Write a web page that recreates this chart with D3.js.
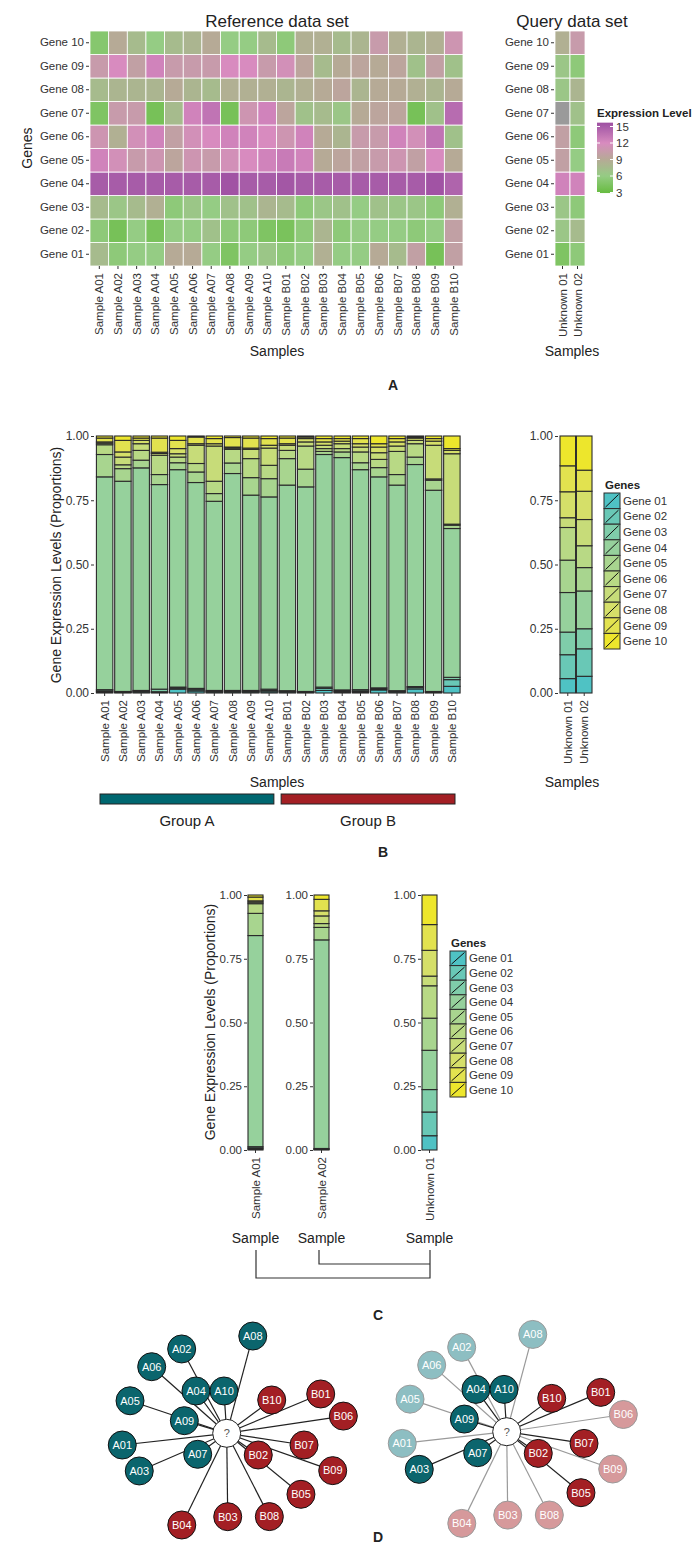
<!DOCTYPE html>
<html><head><meta charset="utf-8">
<script src="https://cdn.jsdelivr.net/npm/d3@7"></script>
<style>
body{margin:0;background:#fff}
svg text{font-family:"Liberation Sans",Arial,Helvetica,sans-serif}
</style></head>
<body><svg id="c" width="692" height="1552"></svg>
<script>
// ---------------- DATA ----------------
const genes = ["Gene 01","Gene 02","Gene 03","Gene 04","Gene 05","Gene 06","Gene 07","Gene 08","Gene 09","Gene 10"];
const refSamples = ["Sample A01","Sample A02","Sample A03","Sample A04","Sample A05","Sample A06","Sample A07","Sample A08","Sample A09","Sample A10",
  "Sample B01","Sample B02","Sample B03","Sample B04","Sample B05","Sample B06","Sample B07","Sample B08","Sample B09","Sample B10"];
const querySamples = ["Unknown 01","Unknown 02"];
const propTicks = [0, 0.25, 0.5, 0.75, 1];
const legendTicks = [3, 6, 9, 12, 15];

// Expression level (log scale) per gene, across reference samples A01..B10
const refExpression = [
  /* Gene 01 */ [7.5,5.5,6,6,9,9,6,4.5,6,6.5,5.5,6,8.5,6,6,9,7.5,10,4,10],
  /* Gene 02 */ [5.5,4,6,4.2,6,6,7,5.5,5.5,4.5,4.2,5.5,8,5.5,6,6,6,5.5,6,10],
  /* Gene 03 */ [7.5,6.5,7.5,8.5,5.5,6.5,6,7,7,8,7.5,5.5,6.5,7,6,7,6.5,6.5,5.5,8.5],
  /* Gene 04 */ [15,15,15,15,15,15,15,15.5,15,15,15.3,15,15,15,15,15,15,15,15.5,14.5],
  /* Gene 05 */ [12.5,11.5,10.5,11,9.5,11,10.5,11.5,12,12.5,13,12.5,9,9.5,10,10.5,11,10,12,9],
  /* Gene 06 */ [11,8.5,11.5,12.5,10,11.5,12,12.5,12.5,12,11,12.5,9,8,10.5,10.5,12.5,11.5,13.5,7],
  /* Gene 07 */ [4.5,10.5,10.5,4,7.5,12.5,13.5,4,11,12.5,9.5,7,7.5,6.5,9,9.5,9.5,4,7,14],
  /* Gene 08 */ [7.5,8,8,8,9,8,7.5,8.5,8.5,8.5,8,8.5,9,9.5,8,9,9,8.5,8,9],
  /* Gene 09 */ [10.5,12,10,12.5,10.5,10.5,10.5,12,12,10.5,11.5,9.5,7.5,9,9.5,9,9.5,7,10,7],
  /* Gene 10 */ [5,9,7.5,6,7.5,8,9,6,6,7.5,5.5,8.5,8.5,7.5,8,10.5,8.5,8,8.5,11]
];
// Query expression per gene (Unknown 01, Unknown 02); null = missing
const queryExpression = [
  [4.5,5.5],[6.5,7.5],[6.5,5.5],[12.5,12.5],[10,6],[10,5.5],[null,7],[6.5,8],[6.5,5.5],[8.5,10.5]
];

// Proportions per sample (Gene 01..Gene 10)
const refProportions = [
  [.004,.004,.005,.828,.087,.038,.006,.005,.015,.008],
  [.002,.002,.002,.818,.049,.015,.030,.020,.045,.017],
  [.003,.003,.004,.866,.030,.038,.026,.013,.009,.008],
  [.002,.003,.010,.796,.039,.075,.007,.005,.055,.008],
  [.015,.004,.004,.846,.027,.022,.013,.020,.032,.017],
  [.008,.005,.005,.801,.041,.033,.071,.006,.026,.004],
  [.003,.003,.004,.736,.030,.048,.137,.009,.020,.010],
  [.003,.003,.004,.844,.041,.053,.005,.004,.037,.006],
  [.003,.003,.004,.760,.068,.074,.036,.005,.039,.008],
  [.005,.005,.005,.748,.071,.052,.067,.011,.026,.010],
  [.003,.003,.003,.800,.103,.032,.020,.006,.022,.008],
  [.002,.002,.002,.796,.069,.090,.016,.013,.006,.004],
  [.010,.008,.005,.905,.012,.011,.013,.013,.013,.010],
  [.004,.004,.004,.904,.022,.013,.019,.010,.010,.010],
  [.004,.004,.005,.856,.027,.042,.019,.013,.020,.010],
  [.012,.004,.004,.821,.036,.032,.026,.022,.013,.030],
  [.003,.003,.003,.800,.041,.090,.021,.016,.013,.010],
  [.016,.006,.003,.864,.029,.052,.013,.009,.004,.004],
  [.002,.002,.002,.783,.039,.005,.131,.016,.010,.010],
  [.026,.026,.009,.579,.013,.004,.274,.013,.007,.049]
];
const queryProportions = [
  [.056,.093,.088,.154,.126,.127,.038,.101,.101,.116],
  [.065,.107,.078,.147,.091,.085,.102,.110,.082,.133]
];
const groups = ["Group A","Group B"];

// Network: distance of each reference sample from the query, and direction
const netNodes = ["A01","A02","A03","A04","A05","A06","A07","A08","A09","A10","B01","B02","B03","B04","B05","B06","B07","B08","B09","B10"];
const netDist  = [1.051,.956,.952,.523,1.02,1.003,.358,1.007,.442,.424,1.019,.383,.834,1.021,.961,1.179,.782,.936,1.124,.56];
const netAngle = [173.6,-118.1,156.7,-126,-161.4,-138.4,144.1,-75,-163.4,-93.7,-22.7,34.5,89.3,116.1,39.4,-8.4,8.6,62.9,19.4,-36.5];
const netNearest = ["A03","A04","A07","A09","A10","B01","B02","B05","B07","B10"];

// ---------------- STYLE ----------------
const geneColors = ["#4fc2c4","#69c8b6","#7fcdaa","#96d19c","#a8d58f","#b8d985","#c7dc79","#d5df69","#e2e24f","#ede62c"];
const teal = "#0b656d", red = "#a31f24";
const txt = "#333";
const svg = d3.select("#c");
const heatColor = d3.scaleLinear().domain([3,6,9,12,15,16]).range(["#68bc42","#95cc84","#b6aa96","#d88bbf","#a75ca8","#9a4a9f"]).clamp(true);

function styleAxis(g, size){
  g.select(".domain").remove();
  g.selectAll(".tick line").attr("stroke","#333");
  g.selectAll(".tick text").attr("fill",txt).style("font-size",size+"px");
}
function rotateLabels(g){
  g.selectAll(".tick text").attr("transform","rotate(-90)").attr("x",-7).attr("y",0).attr("dy","0.35em").style("text-anchor","end");
}
function label(x,y,t,size,opt={}){
  const e = svg.append("text").attr("x",x).attr("y",y).text(t).style("font-size",size+"px").attr("fill",opt.fill||"#222")
    .attr("text-anchor",opt.anchor||"middle");
  if(opt.bold) e.style("font-weight","bold");
  if(opt.rot) e.attr("transform",`rotate(-90,${x},${y})`);
  return e;
}

// ---------------- PANEL A ----------------
const yGene = d3.scaleBand().domain(genes.slice().reverse()).range([31,266]);
const xRef = d3.scaleBand().domain(refSamples).range([90,463]);
const heatCells = [];
genes.forEach((g,gi)=>refSamples.forEach((s,si)=>heatCells.push({g,s,v:refExpression[gi][si]})));
svg.append("g").selectAll("rect").data(heatCells).join("rect")
  .attr("x",d=>xRef(d.s)).attr("y",d=>yGene(d.g)).attr("width",xRef.bandwidth()).attr("height",yGene.bandwidth())
  .attr("fill",d=>heatColor(d.v)).attr("stroke","#fff").attr("stroke-width",0.8);
svg.append("g").attr("transform","translate(89,0)").call(d3.axisLeft(yGene).tickSize(3).tickPadding(2)).call(g=>styleAxis(g,11.5));
svg.append("g").attr("transform","translate(0,266)").call(d3.axisBottom(xRef).tickSize(3)).call(g=>styleAxis(g,11.5)).call(rotateLabels);
label(277,27,"Reference data set",17);
label(277,356,"Samples",14);
label(32,148,"Genes",14,{rot:true});

const xQ = d3.scaleBand().domain(querySamples).range([555,585]);
const qCells = [];
genes.forEach((g,gi)=>querySamples.forEach((s,si)=>qCells.push({g,s,v:queryExpression[gi][si]})));
svg.append("g").selectAll("rect").data(qCells).join("rect")
  .attr("x",d=>xQ(d.s)).attr("y",d=>yGene(d.g)).attr("width",xQ.bandwidth()).attr("height",yGene.bandwidth())
  .attr("fill",d=>d.v==null?"#9a9a9a":heatColor(d.v)).attr("stroke","#fff").attr("stroke-width",0.8);
svg.append("g").attr("transform","translate(554,0)").call(d3.axisLeft(yGene).tickSize(3).tickPadding(2)).call(g=>styleAxis(g,11.5));
svg.append("g").attr("transform","translate(0,266)").call(d3.axisBottom(xQ).tickSize(3)).call(g=>styleAxis(g,11.5)).call(rotateLabels);
label(572,27,"Query data set",17);
label(572,356,"Samples",14);

// colour legend
const legY = d3.scaleLinear().domain([3,15]).range([192.5,126.5]);
const grad = svg.append("defs").append("linearGradient").attr("id","hg").attr("x1",0).attr("x2",0).attr("y1",1).attr("y2",0);
d3.range(2.9,15.75,0.25).forEach(v=>grad.append("stop").attr("offset",(v-2.9)/(15.7-2.9)).attr("stop-color",heatColor(v)));
svg.append("rect").attr("x",597).attr("y",legY(15.7)).attr("width",16).attr("height",legY(2.9)-legY(15.7)).attr("fill","url(#hg)");
svg.append("g").selectAll("g").data(legendTicks).join("g").each(function(t){
  const g=d3.select(this);
  g.append("line").attr("x1",597).attr("x2",600).attr("y1",legY(t)).attr("y2",legY(t)).attr("stroke","#fff");
  g.append("line").attr("x1",610).attr("x2",613).attr("y1",legY(t)).attr("y2",legY(t)).attr("stroke","#fff");
  g.append("text").attr("x",616).attr("y",legY(t)).attr("dy","0.35em").text(t).style("font-size","11.5px").attr("fill",txt);
});
label(597,117,"Expression Level",11.5,{bold:true,anchor:"start"});
label(393,390,"A",14,{bold:true});

// ---------------- STACKED BAR HELPER ----------------
function stackedBars(samples, props, xScale, yScale){
  const table = samples.map((s,i)=>{const o={sample:s}; genes.forEach((g,gi)=>o[g]=props[i][gi]); return o;});
  const series = d3.stack().keys(genes)(table);
  svg.append("g").selectAll("g").data(series).join("g").attr("fill",(d,i)=>geneColors[i])
    .selectAll("rect").data(d=>d).join("rect")
    .attr("x",d=>xScale(d.data.sample)).attr("width",xScale.bandwidth())
    .attr("y",d=>yScale(d[1])).attr("height",d=>yScale(d[0])-yScale(d[1]))
    .attr("stroke","#2a2a2a").attr("stroke-width",1.1);
}
function yAxisProp(x, yScale, size){
  svg.append("g").attr("transform",`translate(${x},0)`)
    .call(d3.axisLeft(yScale).tickValues(propTicks).tickFormat(d3.format(".2f")).tickSize(3).tickPadding(2))
    .call(g=>styleAxis(g,size));
}
function xAxisRot(y, xScale){
  svg.append("g").attr("transform",`translate(0,${y})`).call(d3.axisBottom(xScale).tickSize(3))
    .call(g=>styleAxis(g,11.5)).call(rotateLabels);
}
function geneLegend(x, yTop, h){
  const g = svg.append("g");
  label(x+1,yTop-4,"Genes",11.5,{bold:true,anchor:"start"});
  genes.forEach((gn,i)=>{
    const y = yTop + i*h;
    g.append("rect").attr("x",x).attr("y",y).attr("width",16).attr("height",h).attr("fill",geneColors[i]).attr("stroke","#2a2a2a").attr("stroke-width",1);
    g.append("line").attr("x1",x+1.5).attr("y1",y+h-1.5).attr("x2",x+14.5).attr("y2",y+1.5).attr("stroke","#111").attr("stroke-width",1);
    g.append("text").attr("x",x+19).attr("y",y+h/2).attr("dy","0.35em").text(gn).style("font-size","11.5px").attr("fill",txt);
  });
}

// ---------------- PANEL B ----------------
const yB = d3.scaleLinear().domain([0,1]).range([693,436]);
const xB = d3.scaleBand().domain(refSamples).range([95.5,461]).paddingInner(0.1).paddingOuter(0.05);
stackedBars(refSamples, refProportions, xB, yB);
yAxisProp(94, yB, 12);
xAxisRot(693, xB);
label(61,565,"Gene Expression Levels (Proportions)",14,{rot:true});
label(277,787,"Samples",14);

const xBQ = d3.scaleBand().domain(querySamples).range([560,592]).paddingInner(0.05);
stackedBars(querySamples, queryProportions, xBQ, yB);
yAxisProp(558, yB, 12);
xAxisRot(693, xBQ);
label(572,787,"Samples",14);
geneLegend(604,493,15.6);

// group bars
const xGroup = d3.scaleBand().domain(groups).range([100,455]).paddingInner(0.04);
svg.append("g").selectAll("rect").data(groups).join("rect")
  .attr("x",d=>xGroup(d)).attr("width",xGroup.bandwidth()).attr("y",794).attr("height",10)
  .attr("fill",(d,i)=>i?red:"#006770").attr("stroke","#222").attr("stroke-width",1);
groups.forEach(gr=>label(xGroup(gr)+xGroup.bandwidth()/2,826,gr,15));
label(383,857,"B",14,{bold:true});

// ---------------- PANEL C ----------------
const yC = d3.scaleLinear().domain([0,1]).range([1150,895]);
const cCharts = [
  {sample:"Sample A01", props:refProportions[0], x:248},
  {sample:"Sample A02", props:refProportions[1], x:314},
  {sample:"Unknown 01", props:queryProportions[0], x:422}
];
cCharts.forEach(c=>{
  const xs = d3.scaleBand().domain([c.sample]).range([c.x,c.x+15]);
  stackedBars([c.sample],[c.props],xs,yC);
  yAxisProp(c.x-1,yC,11.5);
  xAxisRot(1150,xs);
  label(c.x+7.5,1243,"Sample",14);
});
label(215,1022,"Gene Expression Levels (Proportions)",14,{rot:true});
geneLegend(450,951,14.6);
// bracket
const br = svg.append("g").attr("fill","none").attr("stroke","#333").attr("stroke-width",1.2);
br.append("path").attr("d",`M${cCharts[0].x+8},1250V1278H${cCharts[2].x+8}V1250`);
br.append("path").attr("d",`M${cCharts[1].x+5},1250V1264H${cCharts[2].x+8}`);
label(378,1320,"C",14,{bold:true});

// ---------------- PANEL D ----------------
const rScale = d3.scaleLinear().domain([0,1]).range([0,100]);
function network(cx, cy, highlight){
  const nodes = netNodes.map((n,i)=>{
    const a = netAngle[i]*Math.PI/180, r = rScale(netDist[i]);
    const near = !highlight || netNearest.includes(n);
    return {n, x:cx+r*Math.cos(a), y:cy+r*Math.sin(a), A:n[0]==="A", near};
  });
  const g = svg.append("g");
  const ordered = nodes.slice().sort((a,b)=>(a.near?1:0)-(b.near?1:0));
  g.selectAll("line").data(ordered).join("line")
    .attr("x1",cx).attr("y1",cy).attr("x2",d=>d.x).attr("y2",d=>d.y)
    .attr("stroke",d=>d.near?"#222":"#9a9a9a").attr("stroke-width",1.2);
  const ng = g.selectAll("g.node").data(ordered).join("g").attr("class","node").attr("transform",d=>`translate(${d.x},${d.y})`);
  ng.append("circle").attr("r",14)
    .attr("fill",d=>d.near?(d.A?teal:red):(d.A?"#8dbec2":"#d6999b"))
    .attr("stroke",d=>d.near?"#111":"#9a9a9a").attr("stroke-width",1);
  ng.append("text").attr("text-anchor","middle").attr("dy","0.35em").text(d=>d.n)
    .attr("fill","#fff").style("font-size","11px");
  g.append("circle").attr("cx",cx).attr("cy",cy).attr("r",14).attr("fill","#fff").attr("stroke","#222").attr("stroke-width",1);
  g.append("text").attr("x",cx).attr("y",cy).attr("dy","0.35em").attr("text-anchor","middle").text("?").attr("fill","#555").style("font-size","11px");
}
network(226.7,1433.3,false);
network(506.7,1431.7,true);
label(378,1542,"D",14,{bold:true});
</script>
</body></html>
